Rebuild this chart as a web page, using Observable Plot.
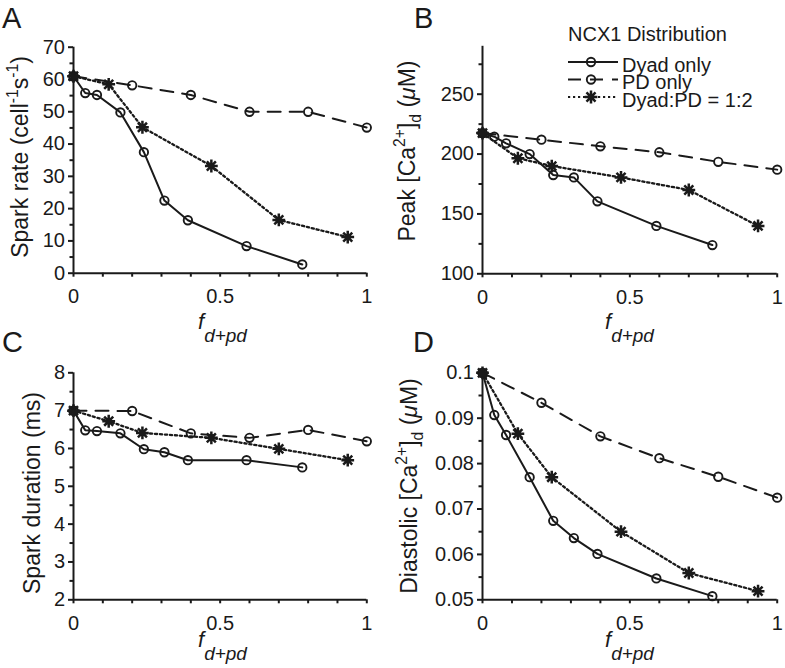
<!DOCTYPE html>
<html>
<head>
<meta charset="utf-8">
<script src="https://cdn.jsdelivr.net/npm/d3@7"></script>
<script src="https://cdn.jsdelivr.net/npm/@observablehq/plot@0.6"></script>
<style>
  html, body { margin: 0; padding: 0; background: #fff; }
  #fig { position: relative; width: 785px; height: 668px; overflow: hidden;
         font-family: "Liberation Sans", Arial, Helvetica, sans-serif; }
  #fig svg { position: absolute; overflow: visible; }
</style>
</head>
<body>
<div id="fig"></div>
<script>
// ---------- data ----------
const seriesNames = ["Dyad only", "PD only", "Dyad:PD = 1:2"];

const xDyad = [0, 0.04, 0.08, 0.16, 0.24, 0.31, 0.39, 0.59, 0.78];
const xPD   = [0, 0.2, 0.4, 0.6, 0.8, 1.0];
const xMix  = [0, 0.12, 0.235, 0.47, 0.70, 0.935];

// A: spark rate (cell^-1 s^-1)
const rateDyad = [61, 55.8, 55.2, 49.8, 37.5, 22.5, 16.4, 8.4, 2.7];
const ratePD   = [61, 58.2, 55.2, 50, 50, 45.1];
const rateMix  = [61, 58.5, 45.2, 33.2, 16.5, 11.2];

// B: peak [Ca2+]d (uM)
const peakDyad = [217.5, 214.5, 209, 200, 182.5, 180.5, 160.5, 140, 124];
const peakPD   = [217.5, 212, 206.5, 201.5, 193.5, 187];
const peakMix  = [217.5, 196.5, 190, 180.5, 170, 140];

// C: spark duration (ms)
const durDyad = [7.0, 6.48, 6.46, 6.4, 5.98, 5.9, 5.69, 5.69, 5.5];
const durPD   = [7.0, 6.99, 6.4, 6.28, 6.49, 6.19];
const durMix  = [7.0, 6.72, 6.41, 6.28, 5.99, 5.69];

// D: diastolic [Ca2+]d (uM)
const diaDyad = [0.1, 0.0907, 0.0863, 0.077, 0.0674, 0.0636, 0.0601, 0.0547, 0.0508];
const diaPD   = [0.1, 0.0934, 0.086, 0.0812, 0.0771, 0.0725];
const diaMix  = [0.1, 0.0866, 0.077, 0.065, 0.0559, 0.0519];

// ticks
const xTicks = [0, 0.5, 1];
const xMinor = [0.1, 0.2, 0.3, 0.4, 0.6, 0.7, 0.8, 0.9];
const rateTicks = [0, 10, 20, 30, 40, 50, 60, 70];
const rateMinor = [5, 15, 25, 35, 45, 55, 65];
const peakTicks = [100, 150, 200, 250];
const peakMinor = [125, 175, 225, 275];
const durTicks = [2, 3, 4, 5, 6, 7, 8];
const durMinor = [2.5, 3.5, 4.5, 5.5, 6.5, 7.5];
const diaTicks = [0.05, 0.06, 0.07, 0.08, 0.09, 0.1];
const diaMinor = [0.055, 0.065, 0.075, 0.085, 0.095];

// ---------- styling ----------
const ink = "#1a1a1a";
const font = '"Liberation Sans", Arial, Helvetica, sans-serif';
const circleR = 4.2, circleW = 1.9, starR = 6.4, starW = 2.5;

const star8 = {
  draw(context, size) {
    const r = Math.sqrt(size / Math.PI);
    for (let i = 0; i < 4; i++) {
      const a = i * Math.PI / 4;
      const dx = r * Math.cos(a), dy = r * Math.sin(a);
      context.moveTo(-dx, -dy);
      context.lineTo(dx, dy);
    }
  }
};

const toRows = (xs, ys) => xs.map((x, i) => ({x, y: ys[i]}));

const panels = [
  {letter: "A", left: 0, top: 0, width: 392, height: 334,
   mL: 73, mR: 25.7, mT: 46.7, mB: 61.3,
   yDomain: [0, 70], yTicks: rateTicks, yMinor: rateMinor, fmt: d => String(d),
   data: [rateDyad, ratePD, rateMix],
   letterPos: [2, 28],
   ylab: {x: 28, y: 157, parts: [{t: "Spark rate (cell"}, {t: "-1", sup: true}, {t: "s"}, {t: "-1", sup: true}, {t: ")"}]},
   xlab: {x: 198, y: 329}},
  {letter: "B", left: 392, top: 0, width: 393, height: 334,
   mL: 90, mR: 8.3, mT: 45.8, mB: 60.7,
   yDomain: [100, 290], yTicks: peakTicks, yMinor: peakMinor, fmt: d => String(d),
   data: [peakDyad, peakPD, peakMix],
   letterPos: [22, 28],
   ylab: {x: 23, y: 151, parts: [{t: "Peak [Ca"}, {t: "2+", sup: true}, {t: "]"}, {t: "d", sub: true}, {t: " ("}, {t: "\u03BC", it: true}, {t: "M)"}]},
   xlab: {x: 213, y: 329},
   legend: true},
  {letter: "C", left: 0, top: 334, width: 392, height: 334,
   mL: 73, mR: 25.7, mT: 38.3, mB: 68.7,
   yDomain: [2, 8], yTicks: durTicks, yMinor: durMinor, fmt: d => String(d),
   data: [durDyad, durPD, durMix],
   letterPos: [2, 18],
   ylab: {x: 40, y: 159, parts: [{t: "Spark duration (ms)"}]},
   xlab: {x: 198, y: 313}},
  {letter: "D", left: 392, top: 334, width: 393, height: 334,
   mL: 90, mR: 8.3, mT: 38.3, mB: 68.7,
   yDomain: [0.05, 0.1], yTicks: diaTicks, yMinor: diaMinor, fmt: d => String(+d.toFixed(3)),
   data: [diaDyad, diaPD, diaMix],
   letterPos: [21, 18],
   ylab: {x: 25, y: 152, parts: [{t: "Diastolic [Ca"}, {t: "2+", sup: true}, {t: "]"}, {t: "d", sub: true}, {t: " ("}, {t: "\u03BC", it: true}, {t: "M)"}]},
   xlab: {x: 213, y: 313}}
];

function richText(svg, {x, y, rotate = 0, anchor = "middle", size, parts}) {
  const t = d3.select(svg).append("text")
    .attr("transform", `translate(${x},${y}) rotate(${rotate})`)
    .attr("text-anchor", anchor)
    .attr("font-family", font)
    .attr("font-size", size)
    .attr("fill", ink);
  let shift = 0;
  for (const p of parts) {
    const s = t.append("tspan").text(p.t);
    const fs = p.size || ((p.sup || p.sub) ? size * 0.68 : size);
    const target = p.off !== undefined ? p.off : p.sup ? -0.42 * size : p.sub ? 0.25 * size : 0;
    const dy = target - shift;
    shift = target;
    if (dy) s.attr("dy", dy);
    s.attr("font-size", fs);
    if (p.it) s.attr("font-style", "italic");
  }
  return t;
}

const fig = document.getElementById("fig");

for (const P of panels) {
  const [yD, yP, yM] = P.data;
  const dDyad = toRows(xDyad, yD), dPD = toRows(xPD, yP), dMix = toRows(xMix, yM);
  const svg = Plot.plot({
    width: P.width, height: P.height,
    marginLeft: P.mL, marginRight: P.mR, marginTop: P.mT, marginBottom: P.mB,
    style: {background: "transparent", color: ink, fontFamily: font, overflow: "visible"},
    x: {domain: [0, 1], axis: null, label: null},
    y: {domain: P.yDomain, axis: null, label: null},
    marks: [
      Plot.axisX({ticks: xMinor, tickSize: 4, tickFormat: () => "", label: null, strokeWidth: 2, stroke: ink}),
      Plot.axisX({ticks: xTicks, tickSize: 4, tickPadding: 12, tickFormat: d => String(d), label: null,
                  fontSize: 20, strokeWidth: 2, stroke: ink, fill: ink}),
      Plot.axisY({ticks: P.yMinor, tickSize: 3.5, tickFormat: () => "", label: null, strokeWidth: 2, stroke: ink}),
      Plot.axisY({ticks: P.yTicks, tickSize: 5, tickPadding: 3.5, tickFormat: P.fmt, label: null,
                  fontSize: 20, strokeWidth: 2, stroke: ink, fill: ink}),
      Plot.ruleX([0], {stroke: ink, strokeWidth: 2}),
      Plot.ruleY([P.yDomain[0]], {stroke: ink, strokeWidth: 2}),
      Plot.line(dPD, {x: "x", y: "y", stroke: ink, strokeWidth: 2, strokeDasharray: "13,9"}),
      Plot.line(dMix, {x: "x", y: "y", stroke: ink, strokeWidth: 2.3, strokeDasharray: "2.2,2.8"}),
      Plot.line(dDyad, {x: "x", y: "y", stroke: ink, strokeWidth: 2}),
      Plot.dot(dPD, {x: "x", y: "y", r: circleR, stroke: ink, fill: "none", strokeWidth: circleW}),
      Plot.dot(dDyad, {x: "x", y: "y", r: circleR, stroke: ink, fill: "none", strokeWidth: circleW}),
      Plot.dot(dMix, {x: "x", y: "y", r: starR, symbol: star8, stroke: ink, fill: "none", strokeWidth: starW})
    ]
  });
  svg.style.left = P.left + "px";
  svg.style.top = P.top + "px";
  fig.appendChild(svg);

  // panel letter
  d3.select(svg).append("text")
    .attr("x", P.letterPos[0]).attr("y", P.letterPos[1])
    .attr("text-anchor", "start")
    .attr("font-family", font).attr("font-size", 29).attr("fill", ink)
    .text(P.letter);

  // y label
  richText(svg, {x: P.ylab.x, y: P.ylab.y, rotate: -90, size: 23, parts: P.ylab.parts});

  // x label f_{d+pd}
  richText(svg, {x: P.xlab.x, y: P.xlab.y, anchor: "start", size: 22,
    parts: [{t: "f", it: true}, {t: "d+pd", it: true, size: 19, off: 13}]});

  if (P.legend) {
    const g = d3.select(svg).append("g").attr("font-family", font).attr("fill", ink)
      .attr("text-anchor", "start");
    g.append("text").attr("x", 255.5).attr("y", 41).attr("text-anchor", "middle")
      .attr("font-size", 20).text("NCX1 Distribution");
    const rows = [
      {name: seriesNames[0], dash: null, marker: "o", ly: 62, ty: 71.5},
      {name: seriesNames[1], dash: "13,9", marker: "o", ly: 79.5, ty: 89},
      {name: seriesNames[2], dash: "2.2,2.8", marker: "*", ly: 97, ty: 106.5}
    ];
    for (const r of rows) {
      const ln = g.append("line").attr("x1", 176).attr("x2", 226).attr("y1", r.ly).attr("y2", r.ly)
        .attr("stroke", ink).attr("stroke-width", 2);
      if (r.dash) ln.attr("stroke-dasharray", r.dash);
      if (r.marker === "o") {
        g.append("circle").attr("cx", 199).attr("cy", r.ly).attr("r", circleR)
          .attr("fill", "none").attr("stroke", ink).attr("stroke-width", circleW);
      } else {
        const path = d3.path();
        star8.draw(path, starR * starR * Math.PI);
        g.append("path").attr("d", path.toString()).attr("transform", `translate(199,${r.ly})`)
          .attr("fill", "none").attr("stroke", ink).attr("stroke-width", starW);
      }
      g.append("text").attr("x", 230).attr("y", r.ty).attr("text-anchor", "start")
        .attr("font-size", 20).text(r.name);
    }
  }
}
</script>
</body>
</html>
